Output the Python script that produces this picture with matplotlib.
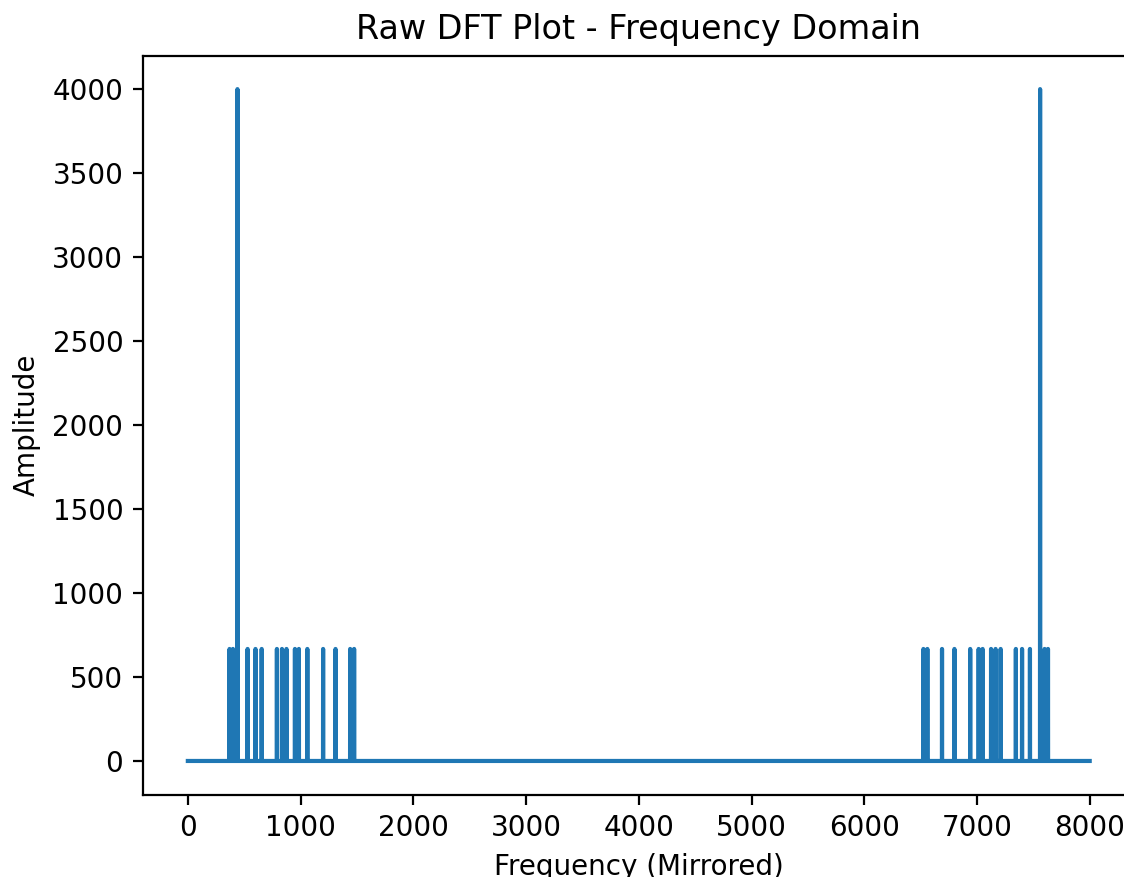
import numpy as np
import matplotlib.pyplot as plt

# sampling setup (1 s at 8 kHz -> 8000 bins)
n_bins = 8000

# spike frequencies (Hz) in the lower half
tone_freqs = [370, 400, 440, 530, 600, 655, 790, 835, 875, 950, 985,
              1060, 1200, 1310, 1440, 1475]
tone_amps = [667, 667, 4000, 667, 667, 667, 667, 667, 667, 667, 667,
             667, 667, 667, 667, 667]

freqs = np.arange(n_bins + 1)
amplitude = np.zeros(n_bins + 1)
for f, a in zip(tone_freqs, tone_amps):
    amplitude[f] = a
    amplitude[n_bins - f] = a   # mirrored half

fig = plt.figure(figsize=(1124 / 200, 877 / 200), dpi=200)
ax = fig.add_axes([0.127, 0.094, 0.8826, 0.8427])
ax.plot(freqs, amplitude)
ax.set_title('Raw DFT Plot - Frequency Domain')
ax.set_xlabel('Frequency (Mirrored)')
ax.set_ylabel('Amplitude')

fig.savefig('out.png', dpi=200)
